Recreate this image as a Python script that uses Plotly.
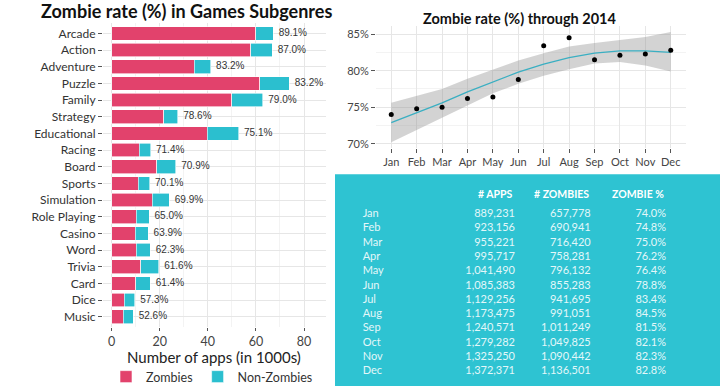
import plotly.graph_objects as go

W, H = 720, 392


def px(x):
    return x / W


def py(y):
    return 1 - y / H


# ---------------- data ----------------
genres = ["Arcade", "Action", "Adventure", "Puzzle", "Family", "Strategy",
          "Educational", "Racing", "Board", "Sports", "Simulation",
          "Role Playing", "Casino", "Word", "Trivia", "Card", "Dice", "Music"]
zombies_k = [60.0, 57.9, 34.4, 61.6, 49.9, 21.6, 39.8, 11.4, 18.8, 11.1,
             16.8, 10.2, 9.7, 10.2, 12.1, 10.0, 5.2, 4.7]
non_zombies_k = [7.2, 8.9, 6.8, 12.3, 13.0, 5.9, 13.0, 4.8, 7.9, 4.7,
                 7.2, 5.4, 5.5, 5.9, 7.5, 6.1, 4.4, 4.3]
rate_labels = ["89.1%", "87.0%", "83.2%", "83.2%", "79.0%", "78.6%",
               "75.1%", "71.4%", "70.9%", "70.1%", "69.9%", "65.0%",
               "63.9%", "62.3%", "61.6%", "61.4%", "57.3%", "52.6%"]

months = ["Jan", "Feb", "Mar", "Apr", "May", "Jun",
          "Jul", "Aug", "Sep", "Oct", "Nov", "Dec"]
apps = [889231, 923156, 955221, 995717, 1041490, 1085383,
        1129256, 1173475, 1240571, 1279282, 1325250, 1372371]
zombie_apps = [657778, 690941, 716420, 758281, 796132, 855283,
               941695, 991051, 1011249, 1049825, 1090442, 1136501]
zombie_pct = [74.0, 74.8, 75.0, 76.2, 76.4, 78.8,
              83.4, 84.5, 81.5, 82.1, 82.3, 82.8]
smooth_fit = [72.9, 74.2, 75.6, 77.1, 78.5, 79.8,
              80.9, 81.8, 82.4, 82.7, 82.7, 82.5]
smooth_upper = [75.6, 76.5, 77.5, 78.9, 80.2, 81.4,
                82.4, 83.3, 83.8, 84.2, 84.6, 85.3]
smooth_lower = [70.2, 71.9, 73.6, 75.3, 76.9, 78.2,
                79.3, 80.2, 81.0, 81.2, 80.7, 79.9]
table_headers = ["# APPS", "# ZOMBIES", "ZOMBIE %"]

# ---------------- style ----------------
PINK = "#E2426C"
CYAN = "#2BBFCF"
TABLE_BG = "#2EC3D2"
FONT = "Lato"
GRID = "#E6E6E6"
MINOR = "#F3F3F3"
# table column anchors (px from the left edge of the cyan box)
COL_MONTH_LEFT = 27.7
COL_RIGHTS = [180, 255.7, 331]
ROW_FIRST, ROW_LAST, ROW_STEP = 217.5, 377.5, 14.545

totals = [z + n for z, n in zip(zombies_k, non_zombies_k)]

fig = go.Figure()

# ---- stacked bars ----
fig.add_trace(go.Bar(
    y=genres, x=zombies_k, orientation="h", name="Zombies",
    marker=dict(color=PINK, line=dict(color="white", width=0.6)),
    xaxis="x", yaxis="y", hoverinfo="x+y"))
fig.add_trace(go.Bar(
    y=genres, x=non_zombies_k, orientation="h", name="Non-Zombies",
    marker=dict(color=CYAN, line=dict(color="white", width=0.6)),
    xaxis="x", yaxis="y", hoverinfo="x+y"))
fig.add_trace(go.Scatter(
    y=genres, x=totals, mode="markers+text", text=rate_labels,
    marker=dict(size=7, color="rgba(0,0,0,0)"),
    textposition="middle right",
    textfont=dict(family="Liberation Sans", size=10, color="#333333"),
    showlegend=False, cliponaxis=False, xaxis="x", yaxis="y",
    hoverinfo="skip"))

# ---- monthly rate with smoother ----
fig.add_trace(go.Scatter(
    x=months, y=smooth_lower, mode="lines", line=dict(width=0),
    showlegend=False, xaxis="x2", yaxis="y2", hoverinfo="skip"))
fig.add_trace(go.Scatter(
    x=months, y=smooth_upper, mode="lines", line=dict(width=0),
    fill="tonexty", fillcolor="rgba(150,150,150,0.42)",
    showlegend=False, xaxis="x2", yaxis="y2", hoverinfo="skip"))
fig.add_trace(go.Scatter(
    x=months, y=smooth_fit, mode="lines",
    line=dict(color="#3AAFC2", width=1.3),
    showlegend=False, xaxis="x2", yaxis="y2"))
fig.add_trace(go.Scatter(
    x=months, y=zombie_pct, mode="markers",
    marker=dict(color="black", size=5),
    showlegend=False, xaxis="x2", yaxis="y2"))

# ---- table (text on its own axes) ----
cell_font = dict(family=FONT, size=11, color="#E3F7F9")
fig.add_trace(go.Scatter(
    x=[COL_MONTH_LEFT] * len(months), y=months, mode="text", text=months,
    textposition="middle right", textfont=cell_font,
    showlegend=False, cliponaxis=False, xaxis="x3", yaxis="y3",
    hoverinfo="skip"))
for col_x, col_text in zip(COL_RIGHTS, [
        [f"{v:,}" for v in apps],
        [f"{v:,}" for v in zombie_apps],
        [f"{v:.1f}%" for v in zombie_pct]]):
    fig.add_trace(go.Scatter(
        x=[col_x] * len(months), y=months, mode="text", text=col_text,
        textposition="middle left", textfont=cell_font,
        showlegend=False, cliponaxis=False, xaxis="x3", yaxis="y3",
        hoverinfo="skip"))

x0_left = -(111.7 - 103) / 2.404
x_right = x0_left + (326 - 103) / 2.404

annotations = [
    dict(text="<b>Zombie rate (%) in Games Subgenres</b>",
         xref="paper", yref="paper", x=px(186), y=py(11.5),
         xanchor="center", yanchor="middle", showarrow=False,
         font=dict(size=18, color="#111111")),
    dict(text="<b>Zombie rate (%) through 2014</b>",
         xref="paper", yref="paper", x=px(519.5), y=py(18.3),
         xanchor="center", yanchor="middle", showarrow=False,
         font=dict(size=14.5, color="#111111")),
    dict(text="Number of apps (in 1000s)",
         xref="paper", yref="paper", x=px(214), y=py(363),
         xanchor="center", yanchor="middle", showarrow=False,
         borderpad=0, font=dict(size=15, color="#222222")),
]
for col_x, head in zip(COL_RIGHTS, table_headers):
    annotations.append(dict(
        text=f"<b>{head}</b>", xref="x3", yref="paper",
        x=col_x, y=py(196.7), xanchor="right", yanchor="middle",
        showarrow=False, font=dict(family=FONT, size=10.5, color="white")))

fig.update_layout(
    width=W, height=H,
    margin=dict(l=0, r=0, t=0, b=0),
    paper_bgcolor="white", plot_bgcolor="rgba(0,0,0,0)",
    barmode="stack", bargap=0.18,
    font=dict(family=FONT, color="#333333"),
    xaxis=dict(
        domain=[px(103), px(326)], range=[x0_left, x_right],
        anchor="y", tickvals=[0, 20, 40, 60, 80],
        showgrid=True, gridcolor=GRID, gridwidth=1,
        minor=dict(dtick=10, tick0=0, showgrid=True, gridcolor=MINOR),
        zeroline=False, showline=False,
        ticks="outside", ticklen=3, tickcolor="#555555",
        tickfont=dict(size=12.5, color="#444444")),
    yaxis=dict(
        domain=[py(331.9), py(23.8)], anchor="x",
        type="category", categoryorder="array", categoryarray=genres,
        range=[len(genres) - 0.4, -0.6],
        showgrid=True, gridcolor=GRID, zeroline=False, showline=False,
        ticks="outside", ticklen=4, tickcolor="#555555",
        tickfont=dict(size=12, color="#333333")),
    xaxis2=dict(
        domain=[px(376), px(686)], anchor="y2",
        type="category", range=[-0.6, 11.6],
        showgrid=True, gridcolor=GRID, zeroline=False, showline=False,
        ticks="outside", ticklen=4, tickcolor="#555555",
        tickfont=dict(size=11, color="#444444")),
    yaxis2=dict(
        domain=[py(150.1), py(26.9)], anchor="x2",
        range=[69.45, 86.05], tickvals=[70, 75, 80, 85],
        ticktext=["70%", "75%", "80%", "85%"],
        showgrid=True, gridcolor=GRID,
        minor=dict(dtick=2.5, tick0=70, showgrid=True, gridcolor=MINOR),
        zeroline=False, showline=False,
        ticks="outside", ticklen=4, tickcolor="#555555",
        tickfont=dict(size=11, color="#444444")),
    xaxis3=dict(
        domain=[px(335), 1], anchor="y3", range=[0, W - 335],
        visible=False, fixedrange=True),
    yaxis3=dict(
        domain=[0, py(177)], anchor="x3", type="category",
        categoryorder="array", categoryarray=months,
        range=[11 + (H - ROW_LAST) / ROW_STEP, -(ROW_FIRST - 177) / ROW_STEP],
        visible=False, fixedrange=True),
    legend=dict(
        orientation="h", x=px(212), xanchor="center",
        y=py(383), yanchor="middle",
        font=dict(size=12.5, color="#333333"),
        itemwidth=30, traceorder="normal", bgcolor="rgba(0,0,0,0)"),
    shapes=[dict(type="rect", xref="paper", yref="paper",
                 x0=px(335), x1=1, y0=0, y1=py(177),
                 fillcolor=TABLE_BG, line=dict(width=0), layer="below")],
    annotations=annotations,
)

fig.write_html("out.html",
               config={"displayModeBar": False},
               post_script="document.body.style.margin='0px';"
                           "document.body.style.overflow='hidden';")
